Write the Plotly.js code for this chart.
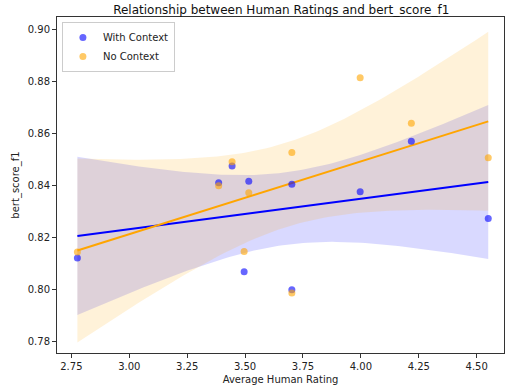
<!DOCTYPE html>
<html><head><meta charset="utf-8">
<script src="https://cdn.plot.ly/plotly-3.0.1.min.js"></script>
<style>html,body{margin:0;padding:0;background:#fff}#chart{width:505px;height:389px}</style>
</head><body><div id="chart"></div>
<script>
// Data
const withX = [2.776, 3.386, 3.444, 3.496, 3.516, 3.702, 3.702, 3.997, 4.218, 4.550];
const withY = [0.8120, 0.8409, 0.8474, 0.8067, 0.8415, 0.8403, 0.7997, 0.8375, 0.8569, 0.8272];
const noX   = [2.776, 3.386, 3.444, 3.496, 3.516, 3.702, 3.702, 3.997, 4.218, 4.550];
const noY   = [0.8143, 0.8398, 0.8490, 0.8145, 0.8371, 0.8526, 0.7985, 0.8813, 0.8638, 0.8505];
const xTicks = [2.75, 3.00, 3.25, 3.50, 3.75, 4.00, 4.25, 4.50];
const yTicks = [0.78, 0.80, 0.82, 0.84, 0.86, 0.88, 0.90];

function fit(xs, ys) {
  const n = xs.length;
  const mx = xs.reduce((a,b)=>a+b,0)/n, my = ys.reduce((a,b)=>a+b,0)/n;
  let sxx=0, sxy=0;
  for (let i=0;i<n;i++){ sxx+=(xs[i]-mx)**2; sxy+=(xs[i]-mx)*(ys[i]-my); }
  const b = sxy/sxx, a = my - b*mx;
  let sse=0; for (let i=0;i<n;i++){ sse += (ys[i]-(a+b*xs[i]))**2; }
  const s = Math.sqrt(sse/(n-2));
  const t = 2.306; // t(0.975, df=8)
  const lo = Math.min(...xs), hi = Math.max(...xs);
  const gx=[], gy=[], up=[], dn=[];
  for (let k=0;k<=100;k++){
    const x = lo + (hi-lo)*k/100;
    const y = a + b*x;
    const h = t*s*Math.sqrt(1/n + (x-mx)**2/sxx);
    gx.push(x); gy.push(y); up.push(y+h); dn.push(y-h);
  }
  return {gx, gy, up, dn};
}

const fw = fit(withX, withY), fn = fit(noX, noY);
const BLUE = 'rgb(0,0,255)', ORANGE = 'rgb(255,165,0)';
function band(f, col) {
  return [
    {x: f.gx, y: f.up, mode:'lines', line:{width:0}, showlegend:false, hoverinfo:'skip'},
    {x: f.gx, y: f.dn, mode:'lines', line:{width:0}, fill:'tonexty', fillcolor:col, showlegend:false, hoverinfo:'skip'}
  ];
}
const traces = [
  ...band(fw, 'rgba(0,0,255,0.15)'),
  ...band(fn, 'rgba(255,165,0,0.15)'),
  {x: fw.gx, y: fw.gy, mode:'lines', line:{color:BLUE, width:2}, showlegend:false},
  {x: fn.gx, y: fn.gy, mode:'lines', line:{color:ORANGE, width:2}, showlegend:false},
  {x: withX, y: withY, mode:'markers', name:'With Context', marker:{color:BLUE, opacity:0.6, size:7}},
  {x: noX, y: noY, mode:'markers', name:'No Context', marker:{color:ORANGE, opacity:0.6, size:7}}
];

const axisCommon = {showgrid:false, zeroline:false, showline:true, mirror:true, linecolor:'#333', linewidth:1,
  ticks:'outside', ticklen:4, tickcolor:'#333', tickfont:{size:10, color:'#222'}};
const layout = {
  width:505, height:389,
  margin:{l:57, r:1, t:17, b:36},
  paper_bgcolor:'#fff', plot_bgcolor:'#fff',
  font:{family:'DejaVu Sans, sans-serif', color:'#222'},
  title:{text:'Relationship between Human Ratings and bert_score_f1', font:{size:12, color:'#111'}, x:0.557, xanchor:'center', y:0.985, yanchor:'top'},
  xaxis:Object.assign({}, axisCommon, {range:[2.688, 4.618], tickvals:xTicks, ticktext:xTicks.map(v=>v.toFixed(2)),
    title:{text:'Average Human Rating', font:{size:10}, standoff:4}}),
  yaxis:Object.assign({}, axisCommon, {range:[0.7754, 0.9047], tickvals:yTicks, ticktext:yTicks.map(v=>v.toFixed(2)),
    title:{text:'bert_score_f1', font:{size:10}, standoff:6}}),
  legend:{x:0.011, y:0.985, xanchor:'left', yanchor:'top', bgcolor:'rgba(255,255,255,0.8)', bordercolor:'#ccc', borderwidth:1,
    font:{size:10, color:'#222'}, itemwidth:30, traceorder:'normal', tracegroupgap:0},
  showlegend:true
};
Plotly.newPlot('chart', traces, layout, {displayModeBar:false, staticPlot:true});
</script></body></html>
